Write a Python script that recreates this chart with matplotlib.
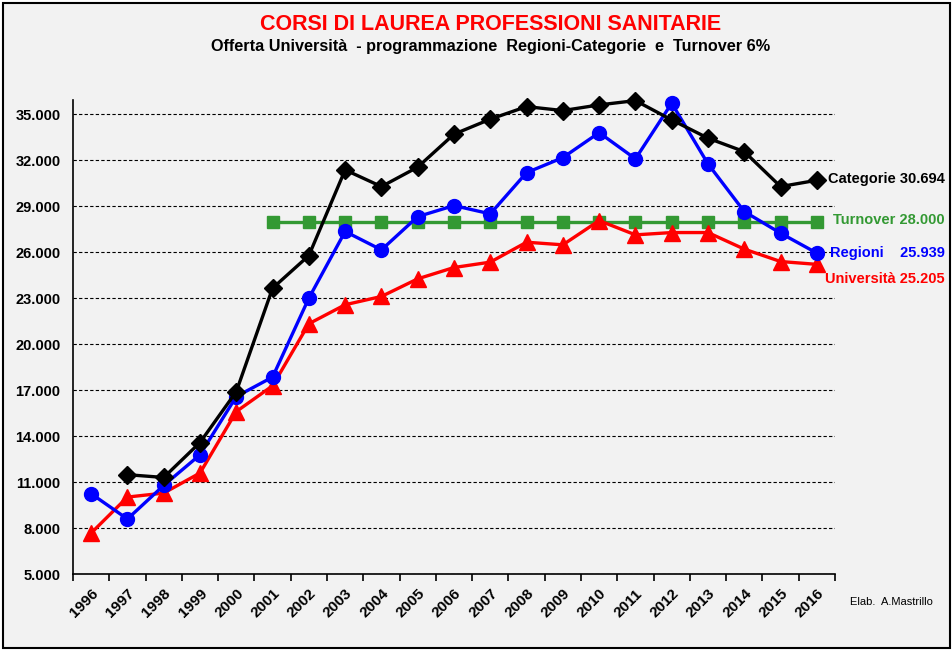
import numpy as np
import matplotlib.pyplot as plt
from matplotlib.patches import Rectangle
from matplotlib.ticker import FuncFormatter

anni = [str(a) for a in range(1996, 2017)]
nan = np.nan

categorie = [nan, 11480, 11300, 13580, 16900, 23650, 25780, 31370, 30280, 31550,
             33700, 34680, 35500, 35240, 35610, 35890, 34630, 33440, 32560, 30280, 30694]
regioni = [10240, 8590, 10780, 12780, 16580, 17850, 23000, 27350, 26150, 28320,
           29040, 28500, 31190, 32170, 33800, 32090, 35720, 31760, 28650, 27240, 25939]
universita = [7670, 10020, 10280, 11590, 15600, 17280, 21330, 22570, 23110, 24260,
              25000, 25350, 26650, 26480, 28060, 27130, 27280, 27280, 26200, 25390, 25205]
turnover = [nan] * 5 + [28000] * 16

GREEN = "#339933"
BG = "#F2F2F2"

plt.rcParams['font.family'] = ['Liberation Sans', 'DejaVu Sans']

fig = plt.figure(figsize=(9.52, 6.52), dpi=100)
fig.patch.set_facecolor("white")
fig.patches.append(Rectangle((3 / 952, 4 / 652), 947 / 952, 645 / 652, transform=fig.transFigure,
                             facecolor=BG, edgecolor="black", linewidth=1.5, zorder=-10))

ax = fig.add_axes([73 / 952, 1 - 574 / 652, 762 / 952, 474 / 652])
ax.set_facecolor(BG)

x = np.arange(len(anni))
ax.plot(x, turnover, color=GREEN, linewidth=2.4, marker="s", markersize=9, zorder=3, clip_on=False)
ax.plot(x, universita, color="red", linewidth=2.4, marker="^", markersize=11, zorder=4, clip_on=False)
ax.plot(x, regioni, color="blue", linewidth=2.4, marker="o", markersize=10, zorder=5, clip_on=False)
ax.plot(x, categorie, color="black", linewidth=2.4, marker="D", markersize=9, zorder=6, clip_on=False)

ax.set_xlim(-0.5, len(anni) - 0.5)
ax.set_ylim(5000, 35930)
ax.set_yticks(np.arange(5000, 35001, 3000))
ax.yaxis.set_major_formatter(FuncFormatter(lambda v, p: f"{int(v):,}".replace(",", ".")))
ax.grid(axis="y", color="black", linestyle=(0, (3, 2)), linewidth=0.8)
ax.set_axisbelow(True)

ax.set_xticks(np.arange(-0.5, len(anni)), labels=[])
ax.set_xticks(x, minor=True)
ax.set_xticklabels(anni, minor=True, rotation=45, ha="right", rotation_mode="anchor",
                   fontsize=11, fontweight="bold")
ax.tick_params(axis="x", which="major", length=5, width=1.2, direction="out")
ax.tick_params(axis="x", which="minor", length=0, pad=9)
ax.tick_params(axis="y", length=0, pad=9, labelsize=10.5)
for lab in ax.get_yticklabels():
    lab.set_fontweight("bold")

for s in ["top", "right"]:
    ax.spines[s].set_visible(False)
for s in ["left", "bottom"]:
    ax.spines[s].set_linewidth(1.2)

# etichette finali
lab_kw = dict(fontsize=10.5, fontweight="bold", ha="right", va="center")
fig.text(945 / 952, 1 - 179 / 652, "Categorie 30.694", color="black", **lab_kw)
fig.text(945 / 952, 1 - 220 / 652, "Turnover 28.000", color=GREEN, **lab_kw)
fig.text(945 / 952, 1 - 253 / 652, "Regioni    25.939", color="blue", **lab_kw)
fig.text(945 / 952, 1 - 279 / 652, "Università 25.205", color="red", **lab_kw)

fig.text(491 / 952, 1 - 25 / 652, "CORSI DI LAUREA PROFESSIONI SANITARIE", color="red",
         fontsize=15.5, fontweight="bold", ha="center", va="center")
fig.text(491 / 952, 1 - 47 / 652, "Offerta Università  - programmazione  Regioni-Categorie  e  Turnover 6%",
         color="black", fontsize=11.7, fontweight="bold", ha="center", va="center")
fig.text(850 / 952, 1 - 602 / 652, "Elab.  A.Mastrillo", fontsize=8, ha="left", va="center")

plt.savefig("out.png", dpi=100, facecolor=fig.get_facecolor())
plt.close()
